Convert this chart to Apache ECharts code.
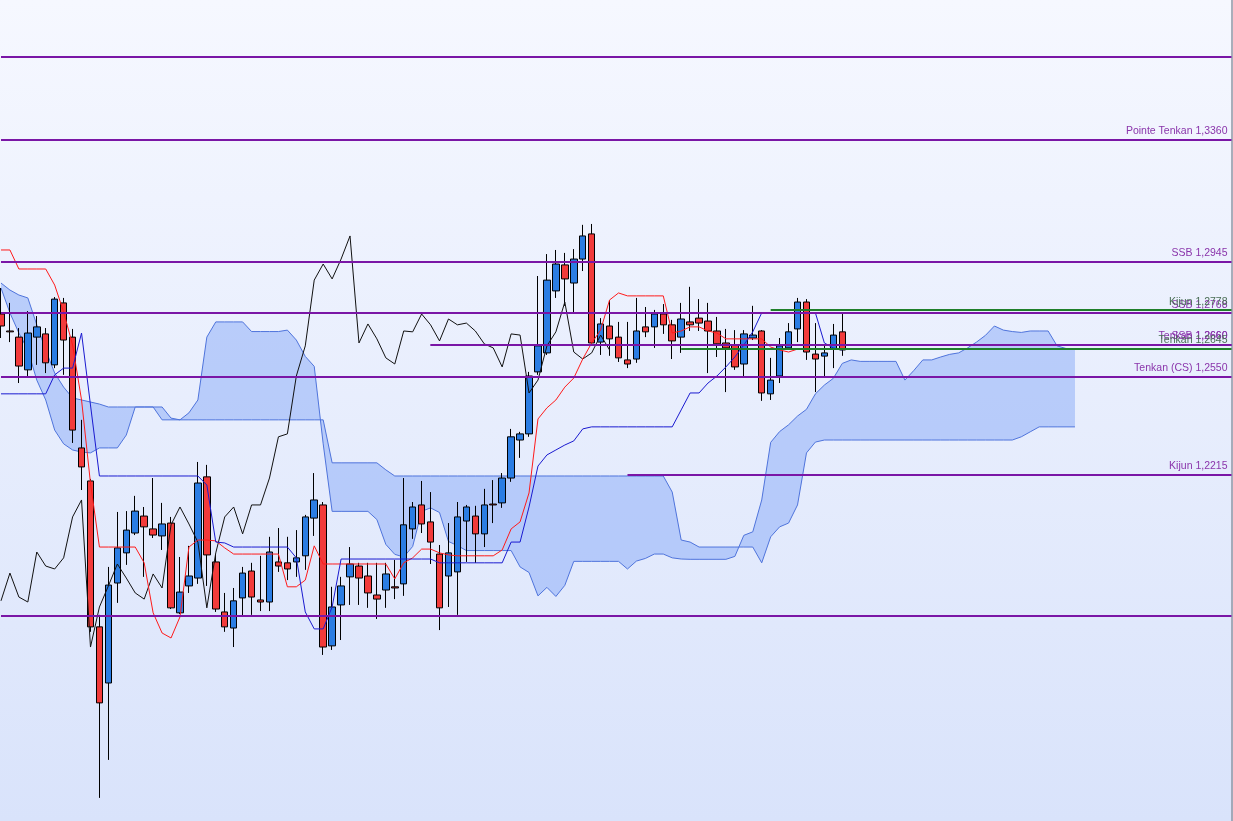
<!DOCTYPE html>
<html>
<head>
<meta charset="utf-8">
<script src="https://cdn.jsdelivr.net/npm/echarts@6/dist/echarts.min.js"></script>
<style>html,body{margin:0;padding:0;background:#fff}#c{width:1233px;height:821px}</style>
</head>
<body>
<div id="c"></div>
<script>
// ---- DATA ----
// candles: [open, close, low, high]
const ohlc = [
[1.2765,1.2724,1.2683,1.2854],[1.2707,1.2704,1.2669,1.2803],[1.2686,1.2587,1.2529,1.2717],[1.2574,1.2700,1.2553,1.2775],
[1.2686,1.2721,1.2591,1.2758],[1.2697,1.2598,1.2563,1.2717],[1.2591,1.2816,1.2580,1.2823],[1.2803,1.2676,1.2557,1.2820],
[1.2686,1.2368,1.2324,1.2714],[1.2307,1.2242,1.2163,1.2403],[1.2194,1.1695,1.1678,1.2201],[1.1695,1.1435,1.1110,1.1736],
[1.1503,1.1838,1.1240,1.1900],[1.1845,1.1965,1.1777,1.2088],[1.1948,1.2026,1.1907,1.2091],[1.2016,1.2091,1.2009,1.2143],
[1.2074,1.2037,1.1866,1.2105],[1.2030,1.2009,1.1999,1.2204],[1.2006,1.2047,1.1958,1.2119],[1.2050,1.1760,1.1756,1.2071],
[1.1743,1.1814,1.1739,1.1934],[1.1835,1.1869,1.1811,1.1972],[1.1862,1.2187,1.1842,1.2259],[1.2208,1.1941,1.1835,1.2249],
[1.1917,1.1756,1.1746,1.1941],[1.1746,1.1695,1.1678,1.1811],[1.1691,1.1784,1.1626,1.1828],[1.1794,1.1879,1.1729,1.1900],
[1.1886,1.1797,1.1736,1.1914],[1.1787,1.1780,1.1749,1.1938],[1.1780,1.1951,1.1749,1.2003],[1.1917,1.1903,1.1883,1.2033],
[1.1914,1.1893,1.1855,1.2003],[1.1917,1.1931,1.1866,1.2026],[1.1938,1.2071,1.1890,1.2078],[1.2067,1.2129,1.2006,1.2221],
[1.2112,1.1626,1.1599,1.2122],[1.1630,1.1763,1.1616,1.1832],[1.1770,1.1835,1.1650,1.1866],[1.1866,1.1910,1.1770,1.1968],
[1.1903,1.1862,1.1770,1.1914],[1.1869,1.1811,1.1760,1.1914],[1.1804,1.1790,1.1722,1.1914],[1.1821,1.1876,1.1760,1.1914],
[1.1832,1.1828,1.1790,1.1924],[1.1842,1.2044,1.1801,1.2204],[1.2030,1.2105,1.1996,1.2122],[1.2112,1.2047,1.2016,1.2194],
[1.2054,1.1985,1.1910,1.2156],[1.1944,1.1760,1.1684,1.1975],[1.1869,1.1948,1.1763,1.2050],[1.1883,1.2071,1.1736,1.2122],
[1.2057,1.2105,1.1917,1.2112],[1.2074,1.2013,1.1914,1.2109],[1.2013,1.2112,1.1968,1.2167],[1.2115,1.2112,1.2050,1.2197],
[1.2119,1.2204,1.2102,1.2221],[1.2204,1.2345,1.2191,1.2372],[1.2334,1.2355,1.2273,1.2362],[1.2355,1.2553,1.2345,1.2567],
[1.2567,1.2656,1.2557,1.2895],[1.2632,1.2881,1.2625,1.2970],[1.2844,1.2936,1.2820,1.2984],[1.2933,1.2885,1.2793,1.2974],
[1.2871,1.2953,1.2769,1.2987],[1.2953,1.3032,1.2912,1.3070],[1.3039,1.2666,1.2659,1.3073],[1.2669,1.2731,1.2625,1.2751],
[1.2724,1.2680,1.2622,1.2813],[1.2686,1.2615,1.2601,1.2738],[1.2608,1.2594,1.2580,1.2738],[1.2611,1.2707,1.2598,1.2820],
[1.2721,1.2704,1.2686,1.2789],[1.2721,1.2765,1.2649,1.2779],[1.2765,1.2728,1.2697,1.2799],[1.2728,1.2673,1.2611,1.2745],
[1.2686,1.2748,1.2632,1.2803],[1.2738,1.2728,1.2707,1.2858],[1.2751,1.2734,1.2707,1.2816],[1.2741,1.2707,1.2563,1.2803],
[1.2707,1.2663,1.2618,1.2755],[1.2666,1.2649,1.2498,1.2714],[1.2659,1.2584,1.2574,1.2710],[1.2594,1.2697,1.2553,1.2710],
[1.2683,1.2693,1.2676,1.2793],[1.2707,1.2495,1.2468,1.2710],[1.2492,1.2539,1.2471,1.2615],[1.2553,1.2656,1.2529,1.2683],
[1.2649,1.2704,1.2642,1.2734],[1.2714,1.2806,1.2669,1.2820],[1.2806,1.2635,1.2608,1.2816],[1.2628,1.2611,1.2498,1.2734],
[1.2621,1.2632,1.2553,1.2659],[1.2645,1.2693,1.2580,1.2731],[1.2704,1.2642,1.2622,1.2765]
];

const tenkan = [
1.2984,1.2984,1.2919,1.2919,1.2919,1.2919,1.2864,1.2772,1.2659,1.2471,
1.2187,1.1968,1.1968,1.1968,1.1968,1.1968,1.1914,1.1743,1.1674,1.1657,
1.1729,1.1968,1.1992,1.1992,1.1989,1.1965,1.1944,1.1944,1.1944,1.1944,
1.1944,1.1944,1.1832,1.1832,1.1855,1.1972,1.1910,1.1910,1.1910,1.1910,
1.1910,1.1910,1.1910,1.1910,1.1859,1.1914,1.1931,1.1961,1.1961,1.1948,
1.1941,1.1938,1.1938,1.1938,1.1938,1.1938,1.1958,1.2030,1.2054,1.2153,
1.2406,1.2444,1.2471,1.2515,1.2546,1.2611,1.2666,1.2710,1.2813,1.2837,
1.2827,1.2827,1.2827,1.2827,1.2827,1.2700,1.2707,1.2721,1.2721,1.2707,
1.2700,1.2680,1.2680,1.2680,1.2680,1.2680,1.2652,1.2642,1.2635,1.2645,
1.2645,1.2645,1.2645,1.2645,1.2645
];

const kijun = [
1.2492,1.2492,1.2492,1.2492,1.2492,1.2492,1.2557,1.2580,1.2580,1.2700,
1.2454,1.2211,1.2211,1.2211,1.2211,1.2211,1.2211,1.2211,1.2211,1.2211,
1.2211,1.2211,1.2211,1.2180,1.1985,1.1982,1.1968,1.1968,1.1968,1.1968,
1.1968,1.1968,1.1968,1.1931,1.1746,1.1688,1.1688,1.1763,1.1927,1.1927,
1.1927,1.1927,1.1927,1.1927,1.1927,1.1927,1.1927,1.1927,1.1927,1.1914,
1.1914,1.1914,1.1914,1.1914,1.1914,1.1914,1.1914,1.1985,1.1985,1.2105,
1.2245,1.2283,1.2300,1.2317,1.2331,1.2372,1.2379,1.2379,1.2379,1.2379,
1.2379,1.2379,1.2379,1.2379,1.2379,1.2379,1.2437,1.2495,1.2495,1.2529,
1.2553,1.2584,1.2618,1.2659,1.2704,1.2769,1.2769,1.2769,1.2769,1.2769,
1.2769,1.2769,1.2666,1.2649,1.2642
];

const senkouA = [
1.2854,1.2769,1.2700,1.2642,1.2539,1.2471,1.2368,1.2321,1.2300,1.2293,
1.2290,1.2307,1.2307,1.2307,1.2351,1.2447,1.2447,1.2447,1.2447,1.2409,
1.2403,1.2427,1.2471,1.2686,1.2738,1.2738,1.2738,1.2738,1.2705,1.2705,
1.2705,1.2705,1.2710,1.2676,1.2620,1.2586,1.2321,1.2090,1.2090,1.2090,
1.2090,1.2090,1.2062,1.1977,1.1943,1.1934,1.1970,1.2090,1.2102,1.2086,
1.1987,1.1973,1.1956,1.1956,1.1956,1.1956,1.1956,1.1956,1.1900,1.1881,
1.1801,1.1830,1.1799,1.1837,1.1919,1.1919,1.1919,1.1919,1.1919,1.1919,
1.1893,1.1920,1.1929,1.1944,1.1944,1.1931,1.1927,1.1926,1.1926,1.1926,
1.1926,1.1926,1.1936,1.2008,1.2020,1.2129,1.2326,1.2363,1.2386,1.2416,
1.2439,1.2492,1.2522,1.2545,1.2596,1.2608,1.2603,1.2603,1.2603,1.2603,
1.2603,1.2539,1.2572,1.2608,1.2608,1.2618,1.2627,1.2632,1.2649,1.2669,
1.2692,1.2724,1.2710,1.2705,1.2702,1.2707,1.2707,1.2707,1.2656,1.2647,
1.2644
];

const senkouB = [
1.2871,1.2847,1.2830,1.2820,1.2728,1.2642,1.2563,1.2515,1.2478,1.2471,
1.2464,1.2457,1.2447,1.2447,1.2447,1.2447,1.2447,1.2447,1.2403,1.2403,
1.2403,1.2403,1.2403,1.2403,1.2403,1.2403,1.2403,1.2403,1.2403,1.2403,
1.2403,1.2403,1.2403,1.2403,1.2403,1.2403,1.2403,1.2256,1.2256,1.2256,
1.2256,1.2256,1.2256,1.2232,1.2211,1.2211,1.2211,1.2211,1.2211,1.2211,
1.2211,1.2211,1.2211,1.2211,1.2211,1.2211,1.2211,1.2211,1.2211,1.2211,
1.2211,1.2211,1.2211,1.2211,1.2211,1.2211,1.2211,1.2211,1.2211,1.2211,
1.2211,1.2211,1.2211,1.2211,1.2211,1.2156,1.1992,1.1985,1.1968,1.1968,
1.1968,1.1968,1.1968,1.1968,1.1968,1.1914,1.2003,1.2037,1.2050,1.2112,
1.2290,1.2327,1.2334,1.2334,1.2334,1.2334,1.2334,1.2334,1.2334,1.2334,
1.2334,1.2334,1.2334,1.2334,1.2334,1.2334,1.2334,1.2334,1.2334,1.2334,
1.2334,1.2334,1.2334,1.2334,1.2345,1.2362,1.2379,1.2379,1.2379,1.2379,
1.2379
];

const chikouShift = 26;

// horizontal levels (purple)
const levelPrices = [1.3644, 1.3360, 1.2945, 1.2768, 1.2660, 1.2660, 1.2550, 1.2215, 1.1732];
const levelLabels = ['', 'Pointe Tenkan 1,3360', 'SSB 1,2945', 'SSB 1,2768', 'Tenkan 1,2660', 'SSB 1,2660', 'Tenkan (CS) 1,2550', 'Kijun 1,2215', ''];
const levelStarts = [0, 0, 0, 0, 48, 48, 0, 70, 0];
// current levels (green)
const curPrices = [1.2778, 1.2645];
const curLabels = ['Kijun 1,2778', 'Tenkan 1,2645'];
const curStarts = [86, 76];

// ---- CHART ----
const X_MIN = -0.11, X_MAX = 137.49;
const chart = echarts.init(document.getElementById('c'));

const FONT = 'Liberation Sans, Arial, sans-serif';
function levelItems(prices, labels, starts, lineColor, textColor) {
  return prices.map(function (p, k) {
    const ls = { color: lineColor, width: 2, type: 'solid' };
    const lb = {
      show: labels[k] !== '', formatter: labels[k], position: 'insideEndTop',
      color: textColor, fontSize: 10.5, fontFamily: FONT, distance: [4, 3]
    };
    return [
      { coord: [starts[k], p], lineStyle: ls, label: lb },
      { coord: [X_MAX, p], lineStyle: ls, label: lb }
    ];
  });
}

const idx = arr => arr.map((v, i) => [i, v]);
const chikou = ohlc.slice(chikouShift).map((d, i) => [i, d[1]]);

const option = {
  animation: false,
  backgroundColor: new echarts.graphic.LinearGradient(0, 0, 0, 1, [
    { offset: 0, color: '#f6f8ff' },
    { offset: 1, color: '#d9e3fb' }
  ]),
  grid: { left: 0, right: 1.5, top: 0, bottom: 0, containLabel: false },
  xAxis: { type: 'value', min: X_MIN, max: X_MAX, show: false },
  yAxis: {
    type: 'value', min: 1.1031, max: 1.3839, position: 'right',
    axisLine: { show: true, onZero: false, lineStyle: { color: '#8f96a3', width: 1.5 } },
    axisTick: { show: false }, axisLabel: { show: false }, splitLine: { show: false }
  },
  series: [
    {
      type: 'custom', name: 'cloud', z: 1, silent: true,
      data: [[0, senkouA[0]]],
      renderItem: function (params, api) {
        const pts = [];
        for (let j = 0; j < senkouA.length; j++) pts.push(api.coord([j, senkouA[j]]));
        for (let j = senkouB.length - 1; j >= 0; j--) pts.push(api.coord([j, senkouB[j]]));
        return { type: 'polygon', shape: { points: pts }, style: { fill: 'rgba(135,170,248,0.5)', stroke: null } };
      }
    },
    { type: 'line', name: 'SSA', data: idx(senkouA), symbol: 'none', z: 1, silent: true,
      lineStyle: { color: '#4f74dc', width: 1 } },
    { type: 'line', name: 'SSB', data: idx(senkouB), symbol: 'none', z: 1, silent: true,
      lineStyle: { color: '#4f74dc', width: 1 } },
    {
      type: 'candlestick', name: 'price', z: 2,
      data: ohlc.map((d, i) => [i, d[0], d[1], d[2], d[3]]),
      barWidth: 7,
      itemStyle: { color: '#2b7de3', color0: '#f23b3b', borderColor: '#000', borderColor0: '#000', borderWidth: 1 }
    },
    { type: 'line', name: 'Chikou', data: chikou, symbol: 'none', z: 3, silent: true,
      lineStyle: { color: '#111111', width: 1 } },
    { type: 'line', name: 'Tenkan', data: idx(tenkan), symbol: 'none', z: 3, silent: true,
      lineStyle: { color: '#ff1a1a', width: 1 } },
    { type: 'line', name: 'Kijun', data: idx(kijun), symbol: 'none', z: 3, silent: true,
      lineStyle: { color: '#1a1ad0', width: 1 } },
    {
      type: 'line', name: 'levels', data: [], z: 4, silent: true,
      markLine: {
        silent: true, symbol: 'none', animation: false,
        data: levelItems(levelPrices, levelLabels, levelStarts, '#7a16a6', '#8a35ab')
          .concat(levelItems(curPrices, curLabels, curStarts, '#1f7f2a', '#4a6e55'))
      }
    }
  ]
};
chart.setOption(option);
</script>
</body>
</html>
